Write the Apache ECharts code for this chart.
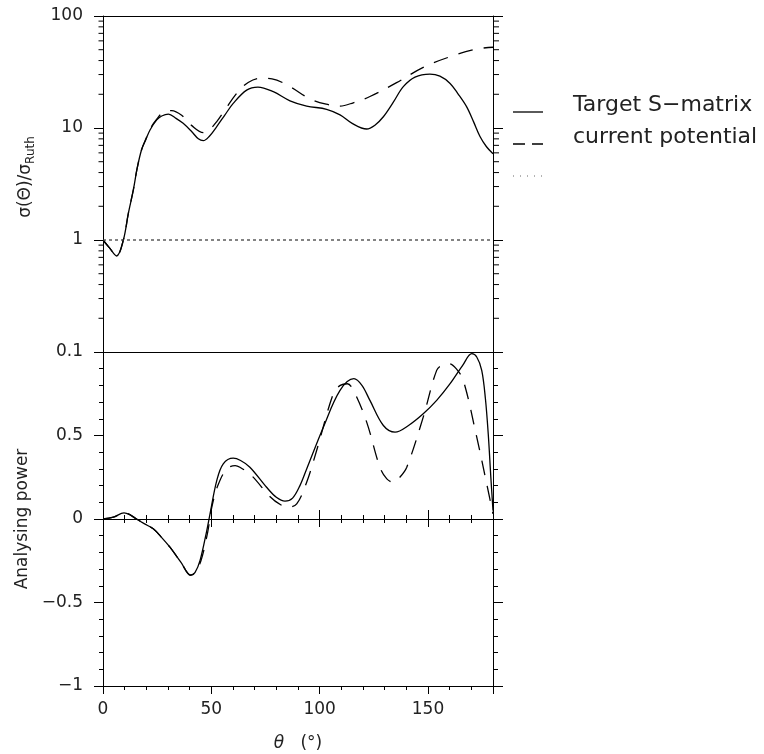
<!DOCTYPE html>
<html>
<head>
<meta charset="utf-8">
<script src="https://cdn.jsdelivr.net/npm/echarts@6/dist/echarts.min.js"></script>
<style>html,body{margin:0;padding:0;background:#fff}#c{width:764px;height:754px}</style>
</head>
<body>
<div id="c"></div>
<script>
// ---- data ----
const THETA_MIN = 0, THETA_MAX = 180;

// Top panel: sigma / sigma_Ruth
const sigTargetTheta = [0,3,6.3,9.4,11.7,14,15.8,17.8,19.8,21.7,24.8,27.1,30.2,33.7,37,40.9,44,46.3,49,52.5,56.3,60.1,66.3,71.5,78.6,86.3,94,103.2,109.4,115,121.7,125.5,129.4,134,138.6,144,150.9,155.5,160.2,164,167.8,171,174,177,180];
const sigTargetVal   = [1.0,0.85,0.72,1.0,1.73,2.8,4.4,6.4,7.9,9.6,11.8,12.8,13.3,12.2,11.0,9.3,8.0,7.7,8.4,10.3,13.1,16.6,21.8,23.2,21.1,17.5,15.7,14.7,13.1,11.0,9.8,10.6,12.6,17,23.4,28.5,30.3,29,25,20,15.5,11.4,8.4,6.8,5.9];

const sigCurrentTheta = [0,3,6.3,9.4,11.7,14,15.8,17.8,19.8,21.7,24.8,28,31.7,36.3,41,46.3,49,52.5,56.3,61.7,67,72.5,78,86.3,95.5,103,109.4,115.5,123.2,135.5,147.8,160.2,172.5,180];
const sigCurrentVal   = [1.0,0.85,0.72,1.0,1.73,2.8,4.4,6.4,8.0,9.8,12.0,13.9,14.3,13.0,10.5,9.1,9.6,11.4,14.5,20.4,25.5,27.8,27.5,23.4,18.2,16.3,15.7,16.8,19.1,25.4,34.8,43.3,50.7,52.6];

const sigThirdTheta = [0,180];
const sigThirdVal   = [1,1];

// Bottom panel: analysing power
const apTargetTheta = [0,4.8,9.7,12.5,15.5,19,23.2,27,30.9,36,40.5,42.5,44.8,47.9,49.4,52.5,55.5,60.1,63.5,67.8,75.5,80,84,87.5,90.9,94,101.7,109.4,115.8,119.5,123.2,129.4,134.8,141,147.8,154,160.2,166,170.2,172.5,174.8,176.5,177.8,179,180];
const apTargetVal   = [0,0.011,0.037,0.025,0,-0.028,-0.059,-0.11,-0.169,-0.26,-0.338,-0.32,-0.248,-0.069,0.031,0.23,0.33,0.364,0.35,0.31,0.19,0.13,0.107,0.125,0.2,0.3,0.55,0.77,0.84,0.8,0.71,0.56,0.52,0.56,0.63,0.71,0.81,0.92,0.99,0.97,0.89,0.72,0.51,0.25,0.05];

const apCurrentTheta = [0,4.8,9.7,15.5,19,23.2,27,30.9,36,40.5,42.5,45.2,48.3,50.2,53,57.1,61,63.2,68.6,77,82,85.5,89.4,94,98.6,106.3,109.5,112.8,116,121.7,127.8,131,134,137,140.2,147.8,154,157,159.8,163,166.3,172.5,177.1,180];
const apCurrentVal   = [0,0.011,0.037,0,-0.028,-0.059,-0.11,-0.169,-0.26,-0.335,-0.32,-0.25,-0.08,0.07,0.2,0.30,0.32,0.31,0.26,0.135,0.085,0.071,0.09,0.22,0.41,0.75,0.8,0.81,0.76,0.58,0.31,0.24,0.22,0.25,0.31,0.61,0.89,0.925,0.93,0.9,0.83,0.49,0.21,0.03];

// tick values
const logMinorTicks = [0.2,0.3,0.4,0.5,0.6,0.7,0.8,0.9,2,3,4,5,6,7,8,9,20,30,40,50,60,70,80,90];
const xTickLabels = [0, 50, 100, 150];
const apTickLabels = [-1, -0.5, 0, 0.5];

const seriesNames = ['Target S\u2212matrix', 'current potential'];

// ---- chart ----
function zip(xs, ys) { return xs.map((x, i) => [x, ys[i]]); }
const FONT = 'DejaVu Sans';
const TXT = '#222';
const axisLine = { show: true, onZero: false, lineStyle: { color: '#000', width: 1 } };
const noAxisLine = { show: false, onZero: false };
const noSplit = { show: false };
const tickStyle = { color: '#000', width: 1 };

function xAx(grid, opts) {
  return Object.assign({
    gridIndex: grid, type: 'value', min: THETA_MIN, max: THETA_MAX, position: 'bottom',
    axisLine: noAxisLine, axisTick: { show: false }, axisLabel: { show: false },
    splitLine: noSplit, minorTick: { show: false }
  }, opts);
}

const chart = echarts.init(document.getElementById('c'), null, { renderer: 'canvas' });
const option = {
  animation: false,
  backgroundColor: '#fff',
  grid: [
    { left: 103, top: 16, width: 390, height: 336 },
    { left: 103, top: 352, width: 390, height: 334 },
    { left: 103, top: 352, width: 390, height: 167 }
  ],
  xAxis: [
    xAx(0, { axisLine: axisLine }),
    xAx(0, { position: 'top', axisLine: axisLine }),
    xAx(1, { interval: 10, axisLine: axisLine, axisTick: { show: true, length: 4, lineStyle: tickStyle } }),
    xAx(1, {
      interval: 50, axisTick: { show: true, length: 8, lineStyle: tickStyle },
      axisLabel: {
        show: true, margin: 15, fontFamily: FONT, fontSize: 17, color: TXT,
        formatter: v => (xTickLabels.indexOf(v) >= 0 ? String(v) : '')
      },
      name: '{i|\u03b8}{n|   (\u00b0)}', nameLocation: 'middle', nameGap: 49,
      nameTextStyle: {
        fontFamily: FONT, fontSize: 17, color: TXT,
        rich: { i: { fontFamily: FONT, fontSize: 17, fontStyle: 'italic', color: TXT }, n: { fontFamily: FONT, fontSize: 17, color: TXT } }
      }
    }),
    xAx(2, { interval: 10, axisLine: axisLine, axisTick: { show: true, length: 4, lineStyle: tickStyle } }),
    xAx(2, { interval: 10, axisTick: { show: true, inside: true, length: 4, lineStyle: tickStyle } }),
    xAx(2, { interval: 50, axisTick: { show: true, length: 8, lineStyle: tickStyle } }),
    xAx(2, { interval: 50, axisTick: { show: true, inside: true, length: 9, lineStyle: tickStyle } })
  ],
  yAxis: [
    {
      gridIndex: 0, type: 'log', logBase: 10, min: 0.1, max: 100, position: 'left',
      axisLine: axisLine, axisTick: { show: true, length: 9, lineStyle: tickStyle },
      axisLabel: {
        margin: 20, fontFamily: FONT, fontSize: 17, color: TXT,
        formatter: v => (v >= 1 ? String(Math.round(v)) : String(+v.toPrecision(1)))
      },
      splitLine: noSplit,
      name: '{a|\u03c3(\u0398)/\u03c3}{s|Ruth}', nameLocation: 'middle', nameRotate: 90, nameGap: 66,
      nameTextStyle: {
        fontFamily: FONT, fontSize: 17, color: TXT, padding: [0, 0, 0, 14],
        rich: {
          a: { fontFamily: FONT, fontSize: 17, color: TXT },
          s: { fontFamily: FONT, fontSize: 12, color: TXT, padding: [10, 0, 0, 0] }
        }
      }
    },
    {
      gridIndex: 0, type: 'log', logBase: 10, min: 0.1, max: 100, position: 'right',
      axisLine: axisLine, axisTick: { show: true, length: 10, lineStyle: tickStyle },
      axisLabel: { show: false }, splitLine: noSplit
    },
    {
      gridIndex: 1, type: 'value', min: -1, max: 1, interval: 0.5, position: 'left',
      axisLine: axisLine, axisTick: { show: true, length: 9, lineStyle: tickStyle },
      minorTick: { show: true, splitNumber: 5, length: 4, lineStyle: tickStyle },
      axisLabel: {
        margin: 20, fontFamily: FONT, fontSize: 17, color: TXT,
        formatter: v => (apTickLabels.indexOf(v) >= 0 ? (v < 0 ? '\u2212' + Math.abs(v) : String(v)) : '')
      },
      splitLine: noSplit,
      name: 'Analysing power', nameLocation: 'middle', nameRotate: 90, nameGap: 72,
      nameTextStyle: { fontFamily: FONT, fontSize: 17, color: TXT }
    },
    {
      gridIndex: 1, type: 'value', min: -1, max: 1, interval: 0.5, position: 'right',
      axisLine: axisLine, axisTick: { show: true, length: 10, lineStyle: tickStyle },
      minorTick: { show: true, splitNumber: 5, length: 5, lineStyle: tickStyle },
      axisLabel: { show: false }, splitLine: noSplit
    },
    {
      gridIndex: 2, type: 'value', min: 0, max: 1, show: false,
      axisLine: noAxisLine, splitLine: noSplit
    }
  ],
  series: [
    {
      type: 'line', name: seriesNames[0], xAxisIndex: 0, yAxisIndex: 0,
      data: zip(sigTargetTheta, sigTargetVal), smooth: 0.35, symbol: 'none', silent: true,
      lineStyle: { color: '#000', width: 1.3 }
    },
    {
      type: 'line', name: seriesNames[1], xAxisIndex: 0, yAxisIndex: 0,
      data: zip(sigCurrentTheta, sigCurrentVal), smooth: 0.35, symbol: 'none', silent: true,
      lineStyle: { color: '#000', width: 1.3, type: [15, 11] }
    },
    {
      type: 'line', name: 'third', xAxisIndex: 0, yAxisIndex: 0,
      data: zip(sigThirdTheta, sigThirdVal), symbol: 'none', silent: true,
      lineStyle: { color: '#333', width: 1.2, type: [3, 3] }
    },
    {
      type: 'custom', xAxisIndex: 0, yAxisIndex: 0, silent: true, clip: false,
      data: logMinorTicks.map(v => [THETA_MIN, v]),
      renderItem: (params, api) => {
        const v = api.value(1);
        const l = api.coord([THETA_MIN, v]);
        const r = api.coord([THETA_MAX, v]);
        return {
          type: 'group', children: [
            { type: 'line', shape: { x1: l[0] - 4.5, y1: l[1], x2: l[0], y2: l[1] }, style: { stroke: '#000', lineWidth: 1 } },
            { type: 'line', shape: { x1: r[0], y1: r[1], x2: r[0] + 6, y2: r[1] }, style: { stroke: '#000', lineWidth: 1 } }
          ]
        };
      }
    },
    {
      type: 'line', name: seriesNames[0] + ' (Ay)', xAxisIndex: 2, yAxisIndex: 2,
      data: zip(apTargetTheta, apTargetVal), smooth: 0.35, symbol: 'none', silent: true,
      lineStyle: { color: '#000', width: 1.3 }
    },
    {
      type: 'line', name: seriesNames[1] + ' (Ay)', xAxisIndex: 2, yAxisIndex: 2,
      data: zip(apCurrentTheta, apCurrentVal), smooth: 0.35, symbol: 'none', silent: true,
      lineStyle: { color: '#000', width: 1.3, type: [15, 11] }
    }
  ],
  graphic: [
    { type: 'line', silent: true, shape: { x1: 513, y1: 112, x2: 543, y2: 112 }, style: { stroke: '#000', lineWidth: 1.3 } },
    { type: 'line', silent: true, shape: { x1: 513, y1: 144, x2: 543, y2: 144 }, style: { stroke: '#000', lineWidth: 1.3, lineDash: [12, 7] } },
    { type: 'line', silent: true, shape: { x1: 513, y1: 176, x2: 544, y2: 176 }, style: { stroke: '#666', lineWidth: 1, lineDash: [1, 6] } },
    { type: 'text', silent: true, style: { x: 573, y: 105, text: seriesNames[0], fontFamily: FONT, fontSize: 22, fill: TXT, verticalAlign: 'middle' } },
    { type: 'text', silent: true, style: { x: 573, y: 137, text: seriesNames[1], fontFamily: FONT, fontSize: 22, fill: TXT, verticalAlign: 'middle' } }
  ]
};
chart.setOption(option);
</script>
</body>
</html>
